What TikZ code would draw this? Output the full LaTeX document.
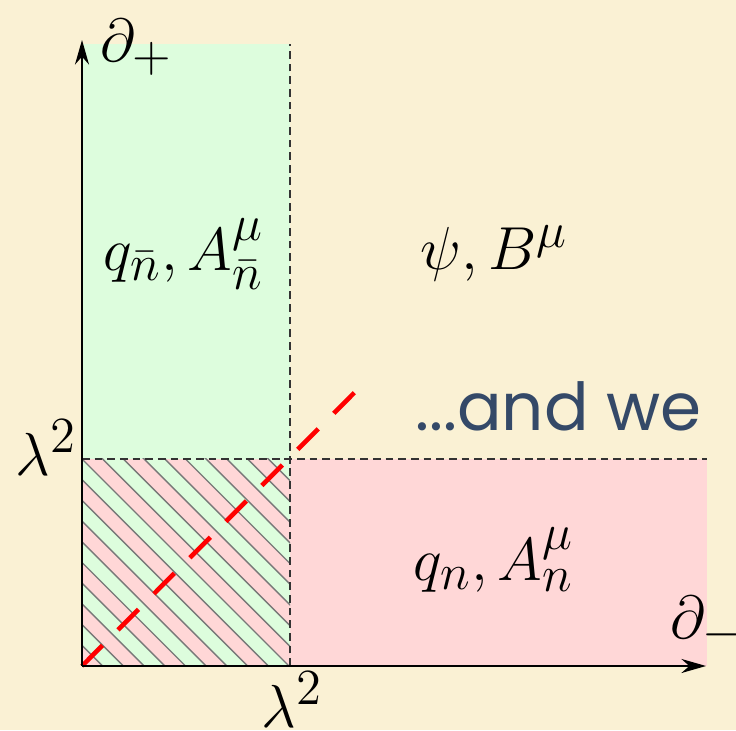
\documentclass[tikz,border=0pt]{standalone}
\usepackage{amsmath,amsfonts,amssymb}
\usepackage{fontspec}
\newfontfamily\slidefont{Poppins}
\usetikzlibrary{arrows.meta}
\definecolor{slidebg}{RGB}{250, 241, 212}
\definecolor{softgreen}{RGB}{221, 253, 221}
\definecolor{softpink}{RGB}{255, 215, 215}
\definecolor{hatchgray}{RGB}{120, 120, 120}
\definecolor{slideblue}{RGB}{52, 73, 104}

\begin{document}
\begin{tikzpicture}[lbl/.style={inner sep=0pt, anchor=base west, font=\fontsize{19}{23}\selectfont}]
    \fill[slidebg] (0,0) rectangle (7.36,7.30);
    \useasboundingbox (0,0) rectangle (7.36,7.30);
    \coordinate (O) at (0.82,0.64);
    \coordinate (ytop) at (0.82,6.90);
    \coordinate (xend) at (7.06,0.64);
    \fill[softgreen] (O) rectangle (2.90,6.86);
    \fill[softpink] (2.90,0.64) rectangle (7.07,2.71);
    % overlap region, striped
    \begin{scope}[shift={(O)}]
      \clip (0,0) rectangle (2.08,2.07);
      \fill[softpink] (0,0) rectangle (2.08,2.07);
      \foreach \i in {1,3,...,21}
        \fill[softgreen] (0,\i*0.207) -- (\i*0.207,0) -- ({(\i+1)*0.207},0) -- (0,{(\i+1)*0.207}) -- cycle;
      \foreach \i in {1,...,22}
        \draw[hatchgray, line width=0.4pt] (0,\i*0.207) -- (\i*0.207,0);
    \end{scope}
    \draw[black!80, line width=0.5pt, dash pattern=on 2.2pt off 1.4pt] (2.90,0.64) -- (2.90,6.86);
    \draw[black!80, line width=0.5pt, dash pattern=on 2.2pt off 1.4pt] (0.82,2.71) -- (7.07,2.71);
    \draw[red, line width=1.3pt, dash pattern=on 8.25pt off 6.25pt] (O) -- (3.55,3.38);
    \draw[-{Stealth[length=7pt,width=4pt]}, line width=0.6pt] (O) -- (ytop);
    \draw[-{Stealth[length=7pt,width=4pt]}, line width=0.6pt] (O) -- (xend);
    \node[lbl] (dplus) at (1.00,6.68) {$\partial_+$};
    \node[lbl] (dminus) at (6.70,0.92) {$\partial_-$};
    \node[lbl] (lamy) at (0.15,2.55) {$\lambda^2$};
    \node[lbl] (lamx) at (2.61,0.03) {$\lambda^2$};
    \node[lbl] (nbar) at (1.03,4.59) {$q_{\bar n}, A^\mu_{\bar n}$};
    \node[lbl] (soft) at (4.20,4.60) {$\psi, B^\mu$};
    \node[lbl] (coll) at (4.13,1.50) {$q_n, A^\mu_n$};
    \node[inner sep=0pt, anchor=base west, text=slideblue, font=\slidefont\fontsize{18.8}{23}\selectfont] (andwe) at (4.15,3.00) {...and we};
\end{tikzpicture}
\end{document}
